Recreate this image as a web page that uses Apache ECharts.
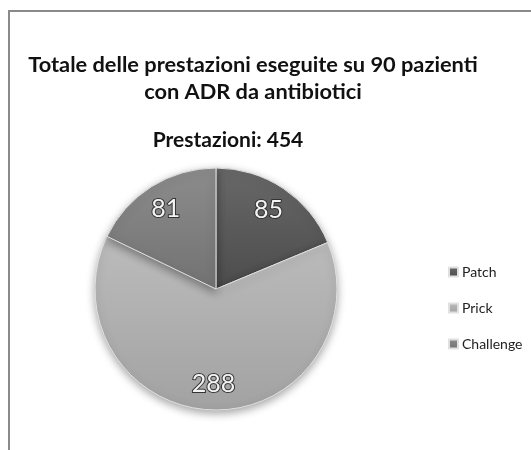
<!DOCTYPE html>
<html><head><meta charset="utf-8">
<script src="https://cdn.jsdelivr.net/npm/echarts@6/dist/echarts.min.js"></script>
<style>html,body{margin:0;padding:0;background:#fff}#c{width:531px;height:450px}</style>
</head><body><div id="c"></div>
<script>
const categories = ['Patch', 'Prick', 'Challenge'];
const values = [85, 288, 81];
const titleText = 'Totale delle prestazioni eseguite su 90 pazienti\ncon ADR da antibiotici';
const subtitleText = 'Prestazioni: 454';

const grad = (a, b) => new echarts.graphic.LinearGradient(0, 0, 0, 1, [{offset: 0, color: a}, {offset: 1, color: b}]);
const fills = [grad('#686868', '#4c4c4c'), grad('#bcbcbc', '#a2a2a2'), grad('#8c8c8c', '#727272')];
const font = 'Lato, "Open Sans", sans-serif';

const chart = echarts.init(document.getElementById('c'), null, {renderer: 'canvas'});
chart.setOption({
  animation: false,
  backgroundColor: '#fff',
  graphic: [{type: 'rect', shape: {x: 9, y: 11, width: 560, height: 470}, style: {fill: 'none', stroke: '#8a8a8a', lineWidth: 2}, silent: true}],
  title: [
    {text: titleText, left: 248, top: 46, textAlign: 'center',
     textStyle: {fontFamily: font, fontWeight: 'bold', fontSize: 21.8, color: '#111', lineHeight: 27}},
    {text: subtitleText, left: 223, top: 125, textAlign: 'center',
     textStyle: {fontFamily: font, fontWeight: 'bold', fontSize: 21, color: '#111'}}
  ],
  legend: {
    orient: 'vertical', left: 443, top: 260, itemGap: 22,
    itemWidth: 9, itemHeight: 9, icon: 'rect',
    textStyle: {fontFamily: font, fontSize: 14, color: '#222', padding: [0, 0, 0, -1]},
    data: categories
  },
  series: [
    {
      type: 'pie', center: [216, 289], radius: 121, startAngle: 90, clockwise: true,
      itemStyle: {borderColor: '#e0e0e0', borderWidth: 1, shadowBlur: 8, shadowColor: 'rgba(0,0,0,0.35)', shadowOffsetY: 3},
      label: {show: false}, labelLine: {show: false},
      data: categories.map((n, i) => ({name: n, value: values[i], itemStyle: {color: fills[i]}}))
    },
    {
      type: 'pie', center: [216, 289], radius: [62, 121], startAngle: 90, clockwise: true, silent: true,
      itemStyle: {color: 'rgba(0,0,0,0)'},
      label: {show: true, position: 'inside', formatter: '{c}', fontFamily: font, fontSize: 25,
              color: '#f4f4f4', textBorderColor: '#333', textBorderWidth: 2},
      labelLine: {show: false},
      legendHoverLink: false,
      data: categories.map((n, i) => ({name: n + ' ', value: values[i]}))
    }
  ]
});
</script></body></html>
